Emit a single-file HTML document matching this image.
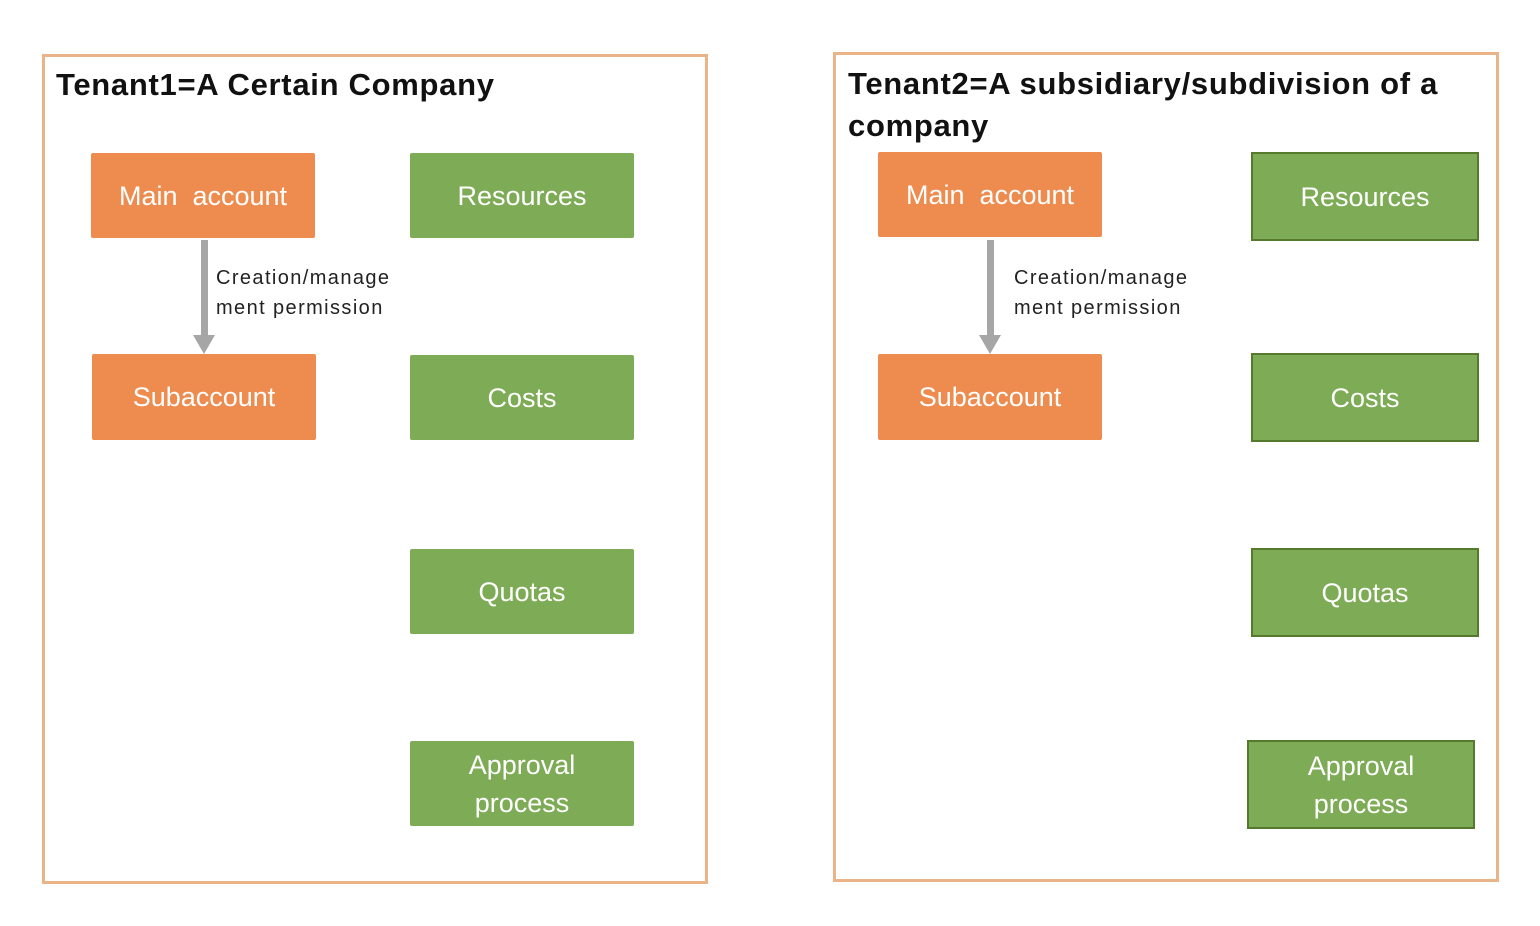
<!DOCTYPE html>
<html><head><style>
body{margin:0;width:1540px;height:926px;background:#fff;position:relative;font-family:"Liberation Sans","DejaVu Sans",sans-serif;overflow:hidden}
.f{position:absolute;border:3px solid #EBB388;box-sizing:border-box}
.t{position:absolute;font-weight:bold;font-size:31px;color:#111;line-height:42px;letter-spacing:0.7px}
.b{position:absolute;display:flex;align-items:center;justify-content:center;text-align:center;color:#fff;font-size:27px;line-height:38px;box-sizing:border-box}
.o{background:#ED8C4E;border-radius:2px}
.g{background:#7EAB55;border-radius:2px}
.gb{background:#7EAB55;border:2px solid #56792E}
.l{position:absolute;font-size:20px;line-height:30px;color:#222;letter-spacing:1.4px}
.s{position:absolute;width:7px;background:#A6A6A6}
.h{position:absolute;width:0;height:0;border-left:11px solid transparent;border-right:11px solid transparent;border-top:19px solid #A6A6A6}
</style></head><body>
<div class="f" style="left:42px;top:54px;width:666px;height:830px"></div>
<div class="t" style="left:56px;top:64px">Tenant1=A Certain Company</div>
<div class="b o" style="left:91px;top:153px;width:224px;height:85px">Main&nbsp; account</div>
<div class="s" style="left:201px;top:240px;height:96px"></div>
<div class="h" style="left:193px;top:335px"></div>
<div class="l" style="left:216px;top:263px">Creation/manage<br>ment permission</div>
<div class="b o" style="left:92px;top:354px;width:224px;height:86px">Subaccount</div>
<div class="b g" style="left:410px;top:153px;width:224px;height:85px">Resources</div>
<div class="b g" style="left:410px;top:355px;width:224px;height:85px">Costs</div>
<div class="b g" style="left:410px;top:549px;width:224px;height:85px">Quotas</div>
<div class="b g" style="left:410px;top:741px;width:224px;height:85px">Approval<br>process</div>

<div class="f" style="left:833px;top:52px;width:666px;height:830px"></div>
<div class="t" style="left:848px;top:63px">Tenant2=A subsidiary/subdivision of a<br>company</div>
<div class="b o" style="left:878px;top:152px;width:224px;height:85px">Main&nbsp; account</div>
<div class="s" style="left:987px;top:240px;height:96px"></div>
<div class="h" style="left:979px;top:335px"></div>
<div class="l" style="left:1014px;top:263px">Creation/manage<br>ment permission</div>
<div class="b o" style="left:878px;top:354px;width:224px;height:86px">Subaccount</div>
<div class="b gb" style="left:1251px;top:152px;width:228px;height:89px">Resources</div>
<div class="b gb" style="left:1251px;top:353px;width:228px;height:89px">Costs</div>
<div class="b gb" style="left:1251px;top:548px;width:228px;height:89px">Quotas</div>
<div class="b gb" style="left:1247px;top:740px;width:228px;height:89px">Approval<br>process</div>
</body></html>
